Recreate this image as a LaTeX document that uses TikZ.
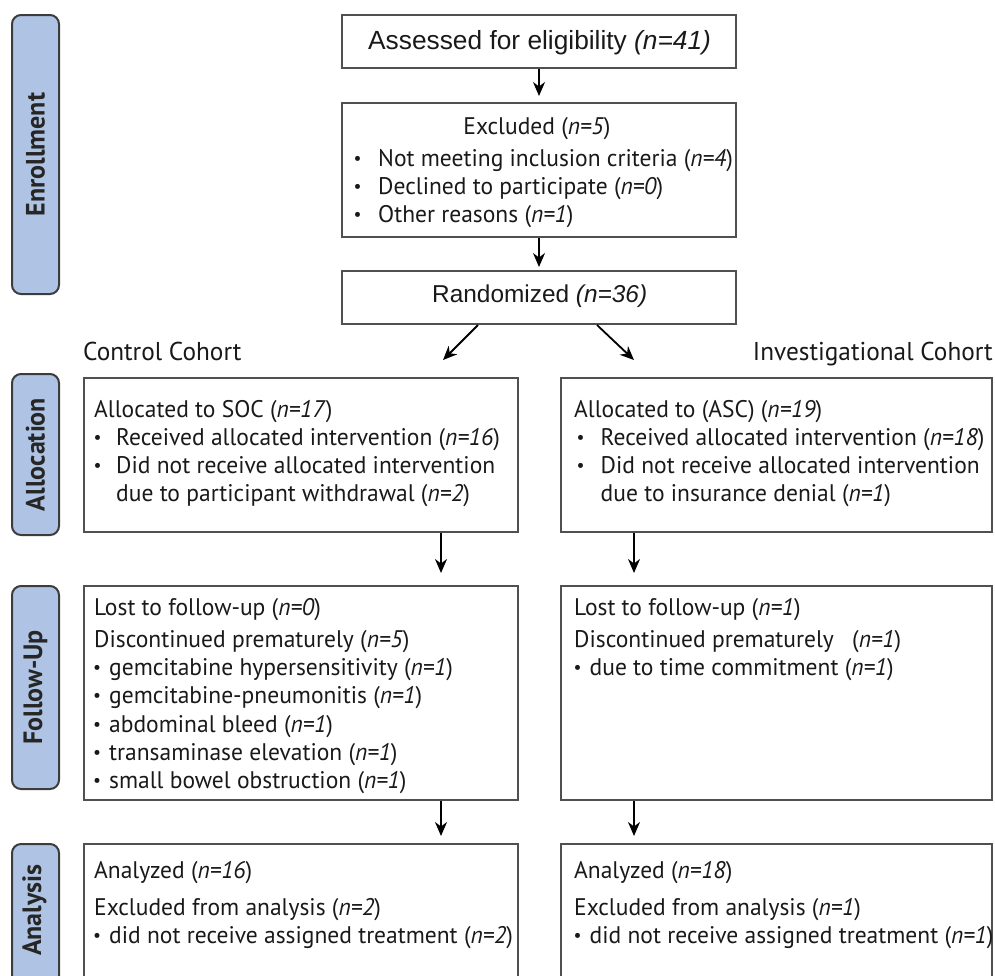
\documentclass[tikz,border=0pt]{standalone}
\usepackage{fontspec}
\setmainfont{PT Sans}[FakeStretch=0.98]
\newfontfamily\arialf{Liberation Sans}
\usetikzlibrary{arrows.meta}
\definecolor{lblue}{RGB}{175,196,228}
\definecolor{lborder}{RGB}{60,60,60}
\definecolor{bgray}{RGB}{80,80,80}
\newcommand\bul[1]{\makebox[#1pt][l]{\raisebox{1.8pt}{\fontsize{18}{18}\selectfont •}}}
\begin{document}
\begin{tikzpicture}[x=1pt,y=-1pt,
 box/.style={draw=bgray, line width=2pt, rectangle, inner sep=0pt, anchor=north west},
 lab/.style={draw=lborder, fill=lblue, line width=2pt, rounded corners=9pt, inner sep=0pt, anchor=north west, minimum width=47pt},
 labtxt/.style={rotate=90, inner sep=0pt, font=\fontsize{26.5}{26.5}\selectfont\bfseries, text=black!85},
 txt/.style={anchor=base west, inner sep=0pt, font=\fontsize{24}{28}\selectfont, text=black!90},
 ctxt/.style={anchor=base west, inner sep=0pt, font=\fontsize{25.8}{28}\selectfont, text=black!90},
 atxt/.style={anchor=base west, inner sep=0pt, font=\arialf\fontsize{26.3}{28}\selectfont, text=black!90},
 arr/.style={-{Stealth[length=14pt,width=12pt,inset=4.5pt]}, line width=1.8pt, black}
]
\useasboundingbox (0,0) rectangle (995,975);
\clip (0,0) rectangle (995,975);

% side labels
\node[lab, minimum height=279pt] (enroll) at (11,14) {};
\node[lab, minimum height=161pt] (alloc) at (11,373) {};
\node[lab, minimum height=203pt] (follow) at (11,585) {};
\node[lab, minimum height=150pt] (analys) at (11,843) {};
\node[labtxt] (enrollT) at (enroll.center) {Enrollment};
\node[labtxt] (allocT) at (alloc.center) {Allocation};
\node[labtxt] (followT) at (follow.center) {Follow-Up};
\node[labtxt] (analysT) at (34.5,910) {Analysis};

% boxes
\node[box, minimum width=394pt, minimum height=53pt] (assess) at (341,14) {};
\node[box, minimum width=394pt, minimum height=134pt] (excl) at (341,102) {};
\node[box, minimum width=394pt, minimum height=53pt] (rand) at (341,270) {};
\node[box, minimum width=434pt, minimum height=154pt] (alocL) at (83,377) {};
\node[box, minimum width=431pt, minimum height=154pt] (alocR) at (560,377) {};
\node[box, minimum width=434pt, minimum height=214pt] (fuL) at (83,585) {};
\node[box, minimum width=431pt, minimum height=214pt] (fuR) at (560,585) {};
\node[box, minimum width=434pt, minimum height=150pt] (anL) at (83,843) {};
\node[box, minimum width=431pt, minimum height=150pt] (anR) at (560,843) {};

% texts
\node[atxt] (tA) at (368,49) {Assessed for eligibility \textit{(n=41)}};
\node[txt, anchor=base] (tE0) at (537,134) {Excluded (\textit{n=5})};
\node[txt] (tE1) at (353.5,166) {\bul{24.5}Not meeting inclusion criteria (\textit{n=4})};
\node[txt] (tE2) at (353.5,194) {\bul{24.5}Declined to participate (\textit{n=0})};
\node[txt] (tE3) at (353.5,222) {\bul{24.5}Other reasons (\textit{n=1})};
\node[atxt, font=\arialf\fontsize{24.4}{28}\selectfont] (tR) at (432,302) {Randomized \textit{(n=36)}};

\node[ctxt] (cc) at (83,360) {Control Cohort};
\node[ctxt, anchor=base east] (ic) at (993,360) {Investigational Cohort};

\node[txt] (aL0) at (94,417) {Allocated to SOC (\textit{n=17})};
\node[txt] (aL1) at (93.5,445) {\bul{22.5}Received allocated intervention (\textit{n=16})};
\node[txt] (aL2) at (93.5,473) {\bul{22.5}Did not receive allocated intervention};
\node[txt] (aL3) at (116,501) {due to participant withdrawal (\textit{n=2})};

\node[txt] (aR0) at (574,417) {Allocated to (ASC) (\textit{n=19})};
\node[txt] (aR1) at (576.5,445) {\bul{24}Received allocated intervention (\textit{n=18})};
\node[txt] (aR2) at (576.5,473) {\bul{24}Did not receive allocated intervention};
\node[txt] (aR3) at (600.5,501) {due to insurance denial (\textit{n=1})};

\node[txt] (fL0) at (94,615) {Lost to follow-up (\textit{n=0})};
\node[txt] (fL1) at (94,647) {Discontinued prematurely (\textit{n=5})};
\node[txt] (fL2) at (93,675) {\bul{16}gemcitabine hypersensitivity (\textit{n=1})};
\node[txt] (fL3) at (93,703) {\bul{16}gemcitabine-pneumonitis (\textit{n=1})};
\node[txt] (fL4) at (93,732) {\bul{16}abdominal bleed (\textit{n=1})};
\node[txt] (fL5) at (93,760) {\bul{16}transaminase elevation (\textit{n=1})};
\node[txt] (fL6) at (93,788) {\bul{16}small bowel obstruction (\textit{n=1})};

\node[txt] (fR0) at (574,615) {Lost to follow-up (\textit{n=1})};
\node[txt] (fR1) at (574,647) {Discontinued prematurely\hspace{0.5em} (\textit{n=1})};
\node[txt] (fR2) at (573.5,675) {\bul{16}due to time commitment (\textit{n=1})};

\node[txt] (nL0) at (94,878) {Analyzed (\textit{n=16})};
\node[txt] (nL1) at (94,915) {Excluded from analysis (\textit{n=2})};
\node[txt] (nL2) at (93,943) {\bul{16}did not receive assigned treatment (\textit{n=2})};

\node[txt] (nR0) at (574,878) {Analyzed (\textit{n=18})};
\node[txt] (nR1) at (574,915) {Excluded from analysis (\textit{n=1})};
\node[txt] (nR2) at (573.5,943) {\bul{16}did not receive assigned treatment (\textit{n=1})};

% connectors
\coordinate (xl) at (441,0);
\coordinate (xr) at (634,0);
\coordinate (xs1) at (478,0);
\coordinate (xs2) at (597,0);
\coordinate (endL) at (443,360);
\coordinate (endR) at (634,360);
\draw[arr, shorten >=6pt] (assess.south) -- (excl.north);
\draw[arr, shorten >=3pt] (excl.south) -- (rand.north);
\draw[arr] (rand.south -| xs1) -- (endL);
\draw[arr] (rand.south -| xs2) -- (endR);
\draw[arr, shorten >=12pt] (alocL.south -| xl) -- (fuL.north -| xl);
\draw[arr, shorten >=12pt] (alocR.south -| xr) -- (fuR.north -| xr);
\draw[arr, shorten >=7pt] (fuL.south -| xl) -- (anL.north -| xl);
\draw[arr, shorten >=7pt] (fuR.south -| xr) -- (anR.north -| xr);
\end{tikzpicture}
\end{document}
